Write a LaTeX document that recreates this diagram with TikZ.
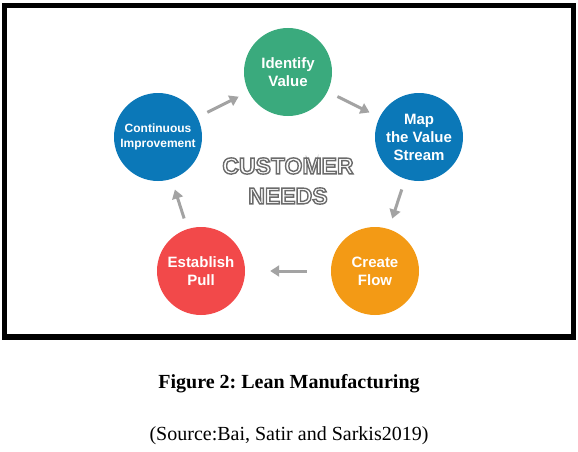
\documentclass[tikz,border=0pt]{standalone}
\usepackage{fontspec}
\setmainfont{Liberation Serif}
\setsansfont{Liberation Sans}
\usepackage{tikz}
\usetikzlibrary{arrows.meta}
\frenchspacing

\definecolor{idgreen}{RGB}{58,170,125}
\definecolor{mapblue}{RGB}{11,120,184}
\definecolor{floworange}{RGB}{243,154,21}
\definecolor{pullred}{RGB}{242,73,74}
\definecolor{arrowgray}{RGB}{163,163,163}
\newcommand\hollowtext[1]{\color{white}\special{pdf:literal direct 2 Tr 1.4 w 0.42 G}#1\special{pdf:literal direct 0 Tr 1 w}}

\begin{document}
\begin{tikzpicture}[x=1pt,y=-1pt,
  step circle/.style={circle,minimum size=88pt,inner sep=0pt,text=white,align=center,font=\sffamily\bfseries\fontsize{15}{18}\selectfont},
  flow/.style={draw=arrowgray,line width=3pt,-{Triangle[length=9pt,width=11pt]},shorten <=11pt,shorten >=11pt}]
\useasboundingbox (0,0) rectangle (578,452);
\draw[line width=5.5pt] (4.5,5.5) rectangle (573.5,337);

\node[step circle,fill=idgreen] (ident) at (288,72) {Identify\\Value};
\node[step circle,fill=mapblue] (map) at (419,137) {Map\\the Value\\Stream};
\node[step circle,fill=floworange] (flow) at (375,271) {Create\\Flow};
\node[step circle,fill=pullred] (pull) at (201,271) {Establish\\Pull};
\node[step circle,fill=mapblue,font=\sffamily\bfseries\fontsize{12}{15}\selectfont] (impr) at (158,137) {Continuous\\Improvement};

\node[font=\sffamily\bfseries\fontsize{23}{30}\selectfont,align=center] (needs) at (288,181) {\hollowtext{CUSTOMER}\\\hollowtext{NEEDS}};

\draw[flow] (impr) -- (ident);
\draw[flow] (ident) -- (map);
\draw[flow] (map) -- (flow);
\draw[flow,shorten <=24pt,shorten >=25pt] (flow) -- (pull);
\draw[flow] (pull) -- (impr);

\node[font=\bfseries\fontsize{20}{24}\selectfont] (title) at (289,384) {Figure 2: Lean Manufacturing};
\node[font=\fontsize{20}{24}\selectfont] (source) at (289,436) {(Source:Bai, Satir and Sarkis2019)};
\end{tikzpicture}
\end{document}
